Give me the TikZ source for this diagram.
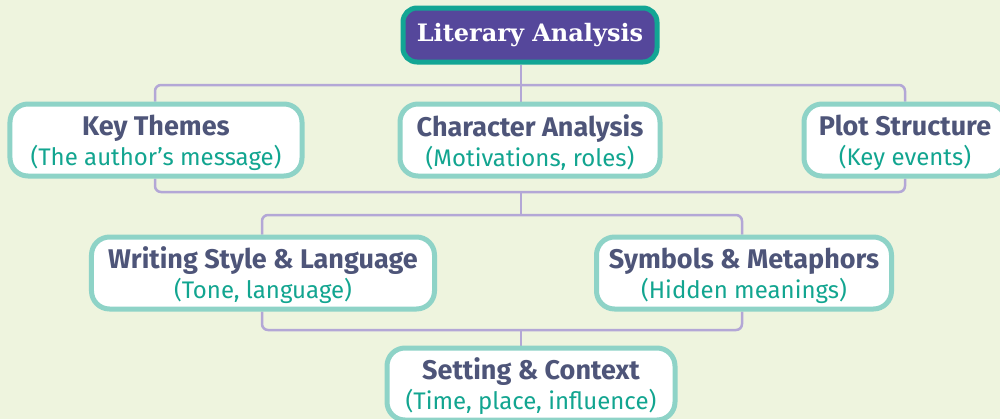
\documentclass[tikz,border=0pt]{standalone}
\usepackage{fontspec}
\usetikzlibrary{backgrounds}
\setmainfont{Fira Sans}
\newfontfamily\slab{DejaVu Serif}
\definecolor{bg}{HTML}{EEF4DE}
\definecolor{rootfill}{HTML}{55479B}
\definecolor{rootborder}{HTML}{12A594}
\definecolor{cborder}{HTML}{8ED3C7}
\definecolor{ttext}{HTML}{4E5579}
\definecolor{stext}{HTML}{12A590}
\definecolor{conn}{HTML}{B3A7D6}
\newcommand{\ttl}[1]{{\fontsize{27bp}{30bp}\selectfont\bfseries\color{ttext}\rule{0pt}{27bp}#1}}
\newcommand{\sbt}[1]{{\fontsize{24bp}{30bp}\selectfont\color{stext}#1}}
\tikzset{
  box/.style={draw=cborder, line width=5bp, fill=white, rounded corners=18bp,
    minimum height=72bp, align=center, inner sep=0pt,
    font=\fontsize{24bp}{30bp}\selectfont},
  rootbox/.style={draw=rootborder, line width=5bp, fill=rootfill, rounded corners=14bp,
    minimum width=254bp, minimum height=54bp, inner sep=0pt, text=white,
    font=\slab\bfseries\fontsize{24bp}{28bp}\selectfont},
  link/.style={draw=conn, line width=2.5bp, rounded corners=6bp}
}
\begin{document}
\begin{tikzpicture}[x=1bp,y=-1bp]
\useasboundingbox (0,0) rectangle (1000,419);
\clip (0,0) rectangle (1000,419);
\coordinate (tx) at (521,0);
\coordinate (b1) at (0,85);
\coordinate (b2) at (0,192);
\coordinate (b3) at (0,215);
\coordinate (b4) at (0,330);
\coordinate (kx) at (155,0);
\coordinate (px) at (905,0);
\coordinate (wx) at (262,0);
\coordinate (sx) at (742,0);
\path (530,35) node[rootbox] (root) {Literary Analysis};
\path (156,140) node[box, minimum width=292bp] (kt) {\ttl{Key Themes}\\\sbt{(The author’s message)}};
\path (530,140) node[box, minimum width=260bp] (ca) {\ttl{Character Analysis}\\\sbt{(Motivations, roles)}};
\path (905,140) node[box, minimum width=202bp] (ps) {\ttl{Plot Structure}\\\sbt{(Key events)}};
\path (263,273) node[box, minimum width=343bp] (ws) {\ttl{Writing Style \& Language}\\\sbt{(Tone, language)}};
\path (744,273) node[box, minimum width=295bp] (sm) {\ttl{Symbols \& Metaphors}\\\sbt{(Hidden meanings)}};
\path (531,384) node[box, minimum width=288bp] (sc) {\ttl{Setting \& Context}\\\sbt{(Time, place, influence)}};
\begin{scope}[on background layer]
\fill[bg] (0,0) rectangle (1000,419);
\draw[link] (root.south -| tx) -- (ca.north -| tx);
\draw[link] (kt.north -| kx) |- (b1 -| tx) -| (ps.north -| px);
\draw[link] (kt.south -| kx) |- (b2 -| tx) -| (ps.south -| px);
\draw[link] (b2 -| tx) -- (b3 -| tx);
\draw[link] (ws.north -| wx) |- (b3 -| tx) -| (sm.north -| sx);
\draw[link] (ws.south -| wx) |- (b4 -| tx) -| (sm.south -| sx);
\draw[link] (b4 -| tx) -- (sc.north -| tx);
\end{scope}
\end{tikzpicture}
\end{document}
